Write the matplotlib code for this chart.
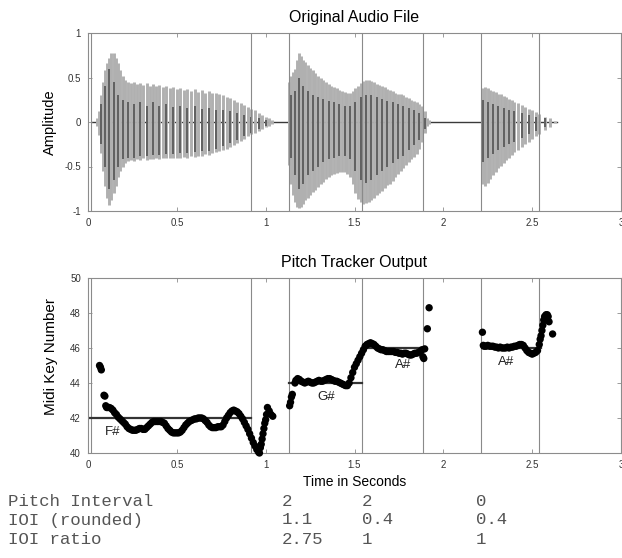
import numpy as np
import matplotlib
matplotlib.use('Agg')
import matplotlib.pyplot as plt

plt.rcParams['font.family'] = ['Liberation Sans', 'DejaVu Sans']

# ---- waveform strokes (time, top, bottom) ----
w1_t = [0.050, 0.060, 0.072, 0.084, 0.096, 0.108, 0.120, 0.132, 0.144, 0.156,
        0.168, 0.180, 0.195, 0.210, 0.225, 0.240, 0.258, 0.276, 0.294, 0.312,
        0.330, 0.348, 0.366, 0.384, 0.402, 0.420, 0.440, 0.460, 0.480, 0.500,
        0.520, 0.540, 0.560, 0.580, 0.600, 0.620, 0.640, 0.660, 0.680, 0.700,
        0.720, 0.740, 0.760, 0.780, 0.800, 0.820, 0.840, 0.860, 0.880, 0.900,
        0.920, 0.940, 0.960, 0.980, 1.000, 1.020, 1.035]
w1_top = [0.05, 0.12, 0.30, 0.45, 0.58, 0.66, 0.72, 0.78, 0.77, 0.72,
          0.66, 0.58, 0.52, 0.47, 0.45, 0.44, 0.45, 0.43, 0.44, 0.42,
          0.44, 0.41, 0.43, 0.40, 0.42, 0.39, 0.40, 0.38, 0.39, 0.37,
          0.38, 0.36, 0.37, 0.35, 0.37, 0.34, 0.36, 0.33, 0.35, 0.33,
          0.33, 0.31, 0.30, 0.28, 0.27, 0.25, 0.23, 0.21, 0.19, 0.17,
          0.15, 0.13, 0.10, 0.08, 0.06, 0.04, 0.02]
w1_bot = [-0.05, -0.15, -0.35, -0.55, -0.72, -0.85, -0.93, -0.88, -0.80, -0.72,
          -0.62, -0.55, -0.50, -0.46, -0.44, -0.43, -0.44, -0.42, -0.43, -0.41,
          -0.43, -0.42, -0.42, -0.41, -0.42, -0.40, -0.41, -0.40, -0.41, -0.40,
          -0.40, -0.39, -0.40, -0.38, -0.39, -0.38, -0.38, -0.36, -0.37, -0.35,
          -0.34, -0.33, -0.32, -0.30, -0.28, -0.26, -0.24, -0.21, -0.19, -0.16,
          -0.14, -0.12, -0.10, -0.08, -0.06, -0.04, -0.02]
d1_t = [0.072, 0.096, 0.120, 0.144, 0.168, 0.195, 0.225, 0.258, 0.294, 0.330,
        0.366, 0.402, 0.440, 0.480, 0.520, 0.560, 0.600, 0.640, 0.680, 0.720,
        0.760, 0.800, 0.840, 0.880, 0.920, 0.960, 1.000]
d1_top = [0.20, 0.40, 0.60, 0.45, 0.30, 0.25, 0.22, 0.20, 0.22, 0.18,
          0.22, 0.18, 0.20, 0.17, 0.18, 0.16, 0.18, 0.15, 0.16, 0.14,
          0.13, 0.12, 0.10, 0.08, 0.06, 0.04, 0.02]
d1_bot = [-0.25, -0.50, -0.75, -0.65, -0.50, -0.42, -0.40, -0.40, -0.38, -0.38,
          -0.37, -0.37, -0.36, -0.36, -0.35, -0.35, -0.34, -0.33, -0.33, -0.30,
          -0.27, -0.24, -0.20, -0.16, -0.12, -0.08, -0.04]

w2_t = [1.130, 1.140, 1.152, 1.164, 1.176, 1.188, 1.200, 1.212, 1.224, 1.236,
        1.250, 1.265, 1.280, 1.295, 1.310, 1.325, 1.340, 1.355, 1.370, 1.385,
        1.400, 1.415, 1.430, 1.445, 1.460, 1.475, 1.490, 1.505, 1.520, 1.535,
        1.550, 1.565, 1.580, 1.595, 1.610, 1.625, 1.640, 1.655, 1.670, 1.685,
        1.700, 1.715, 1.730, 1.745, 1.760, 1.775, 1.790, 1.805, 1.820, 1.835,
        1.850, 1.865, 1.880, 1.895, 1.910, 1.920]
w2_top = [0.45, 0.52, 0.56, 0.60, 0.70, 0.78, 0.74, 0.70, 0.67, 0.64,
          0.61, 0.58, 0.55, 0.52, 0.50, 0.47, 0.45, 0.43, 0.41, 0.39,
          0.38, 0.36, 0.35, 0.34, 0.33, 0.33, 0.35, 0.38, 0.41, 0.44,
          0.46, 0.47, 0.47, 0.46, 0.45, 0.43, 0.42, 0.40, 0.39, 0.37,
          0.36, 0.35, 0.33, 0.32, 0.31, 0.30, 0.28, 0.27, 0.25, 0.24,
          0.22, 0.20, 0.18, 0.12, 0.05, 0.02]
w2_bot = [-0.48, -0.70, -0.82, -0.90, -0.95, -0.97, -0.96, -0.92, -0.88, -0.85,
          -0.82, -0.79, -0.76, -0.73, -0.70, -0.67, -0.64, -0.62, -0.60, -0.58,
          -0.57, -0.56, -0.56, -0.56, -0.58, -0.62, -0.70, -0.80, -0.86, -0.90,
          -0.92, -0.91, -0.90, -0.88, -0.85, -0.82, -0.80, -0.77, -0.74, -0.71,
          -0.70, -0.66, -0.62, -0.58, -0.55, -0.52, -0.48, -0.45, -0.42, -0.39,
          -0.36, -0.30, -0.22, -0.12, -0.05, -0.02]
d2_t = [1.140, 1.164, 1.188, 1.212, 1.236, 1.265, 1.295, 1.325, 1.355, 1.385,
        1.415, 1.445, 1.475, 1.505, 1.535, 1.565, 1.595, 1.625, 1.655, 1.685,
        1.715, 1.745, 1.775, 1.805, 1.835, 1.865, 1.895]
d2_top = [0.30, 0.35, 0.50, 0.40, 0.35, 0.30, 0.28, 0.26, 0.24, 0.22,
          0.20, 0.18, 0.18, 0.22, 0.28, 0.30, 0.30, 0.28, 0.26, 0.24,
          0.22, 0.20, 0.18, 0.16, 0.14, 0.10, 0.05]
d2_bot = [-0.40, -0.60, -0.75, -0.70, -0.60, -0.55, -0.50, -0.45, -0.42, -0.40,
          -0.38, -0.38, -0.42, -0.55, -0.65, -0.68, -0.65, -0.60, -0.55, -0.50,
          -0.46, -0.42, -0.38, -0.32, -0.26, -0.20, -0.08]

w3_t = [2.215, 2.225, 2.235, 2.250, 2.265, 2.280, 2.295, 2.310, 2.325, 2.340,
        2.355, 2.370, 2.385, 2.400, 2.420, 2.440, 2.460, 2.480, 2.500, 2.520,
        2.540, 2.570, 2.600, 2.630]
w3_top = [0.20, 0.38, 0.39, 0.38, 0.36, 0.35, 0.34, 0.32, 0.31, 0.29,
          0.28, 0.26, 0.25, 0.23, 0.21, 0.19, 0.17, 0.15, 0.13, 0.11,
          0.09, 0.06, 0.04, 0.01]
w3_bot = [-0.30, -0.70, -0.72, -0.68, -0.64, -0.60, -0.56, -0.52, -0.49, -0.46,
          -0.43, -0.40, -0.37, -0.34, -0.31, -0.28, -0.25, -0.22, -0.19, -0.16,
          -0.13, -0.09, -0.06, -0.01]
d3_t = [2.225, 2.250, 2.280, 2.310, 2.340, 2.370, 2.400, 2.440, 2.480, 2.520, 2.570]
d3_top = [0.25, 0.22, 0.20, 0.18, 0.16, 0.14, 0.12, 0.10, 0.08, 0.06, 0.04]
d3_bot = [-0.45, -0.40, -0.36, -0.32, -0.28, -0.25, -0.22, -0.18, -0.14, -0.10, -0.06]

silence_t = [0.02, 2.64]

# ---- pitch tracker output ----
p1_t = [0.065, 0.070, 0.075, 0.090, 0.095, 0.100, 0.105, 0.110, 0.120, 0.130,
        0.140, 0.150, 0.160, 0.170, 0.180, 0.190, 0.200, 0.210, 0.220, 0.230,
        0.240, 0.250, 0.260, 0.270, 0.280, 0.290, 0.300, 0.310, 0.320, 0.330,
        0.340, 0.350, 0.360, 0.370, 0.380, 0.390, 0.400, 0.410, 0.420, 0.430,
        0.440, 0.450, 0.460, 0.470, 0.480, 0.490, 0.500, 0.510, 0.520, 0.530,
        0.540, 0.550, 0.560, 0.570, 0.580, 0.590, 0.600, 0.610, 0.620, 0.630,
        0.640, 0.650, 0.660, 0.670, 0.680, 0.690, 0.700, 0.710, 0.720, 0.730,
        0.740, 0.750, 0.760, 0.770, 0.780, 0.790, 0.800, 0.810, 0.820, 0.830,
        0.840, 0.850, 0.860, 0.870, 0.880, 0.890, 0.900, 0.910, 0.920, 0.930,
        0.940, 0.950, 0.960, 0.965, 0.970, 0.975, 0.980, 0.985, 0.990, 0.995,
        1.000, 1.005, 1.010, 1.020, 1.030, 1.040]
p1_midi = [45.0, 44.9, 44.75, 43.3, 43.25, 42.7, 42.6, 42.6, 42.6, 42.55,
           42.45, 42.3, 42.2, 42.05, 41.95, 41.85, 41.75, 41.65, 41.5, 41.4,
           41.35, 41.3, 41.3, 41.3, 41.35, 41.4, 41.4, 41.35, 41.35, 41.45,
           41.55, 41.65, 41.75, 41.8, 41.8, 41.8, 41.8, 41.8, 41.75, 41.7,
           41.55, 41.4, 41.3, 41.2, 41.15, 41.15, 41.15, 41.15, 41.2, 41.3,
           41.45, 41.6, 41.7, 41.8, 41.85, 41.9, 41.95, 41.95, 42.0, 42.0,
           42.0, 41.95, 41.85, 41.75, 41.6, 41.5, 41.45, 41.45, 41.45, 41.5,
           41.5, 41.5, 41.6, 41.8, 42.0, 42.15, 42.3, 42.4, 42.45, 42.4,
           42.35, 42.25, 42.1, 41.95, 41.75, 41.55, 41.35, 41.1, 40.85, 40.6,
           40.4, 40.2, 40.05, 40.0, 40.3, 40.5, 40.8, 41.1, 41.4, 41.7,
           41.9, 42.2, 42.6, 42.4, 42.2, 42.1]
p2_t = [1.135, 1.140, 1.145, 1.150, 1.165, 1.170, 1.180, 1.190, 1.200, 1.210,
        1.220, 1.230, 1.240, 1.250, 1.260, 1.270, 1.280, 1.290, 1.300, 1.310,
        1.320, 1.330, 1.340, 1.350, 1.360, 1.370, 1.380, 1.390, 1.400, 1.410,
        1.420, 1.430, 1.440, 1.450, 1.460, 1.470, 1.480, 1.490, 1.500, 1.510,
        1.520, 1.530, 1.540, 1.550, 1.560, 1.570, 1.580, 1.590, 1.600, 1.610,
        1.620, 1.630, 1.640, 1.650, 1.660, 1.670, 1.680, 1.690, 1.700, 1.710,
        1.720, 1.730, 1.740, 1.750, 1.760, 1.770, 1.780, 1.790, 1.800, 1.810,
        1.820, 1.830, 1.840, 1.850, 1.860, 1.870, 1.880, 1.885, 1.890, 1.895,
        1.910, 1.920]
p2_midi = [42.7, 42.9, 43.2, 43.35, 44.0, 44.15, 44.25, 44.2, 44.1, 44.05,
           44.0, 44.05, 44.1, 44.05, 44.0, 44.0, 44.05, 44.1, 44.15, 44.1,
           44.1, 44.15, 44.2, 44.25, 44.25, 44.2, 44.15, 44.1, 44.1, 44.05,
           44.0, 43.95, 43.9, 43.85, 43.85, 44.0, 44.3, 44.6, 44.9, 45.1,
           45.3, 45.5, 45.7, 45.9, 46.1, 46.2, 46.25, 46.3, 46.25, 46.2,
           46.1, 46.0, 45.95, 45.9, 45.9, 45.85, 45.8, 45.8, 45.8, 45.8,
           45.8, 45.75, 45.75, 45.7, 45.7, 45.65, 45.7, 45.7, 45.65, 45.6,
           45.6, 45.65, 45.7, 45.7, 45.75, 45.8, 45.9, 45.5, 45.4, 45.95,
           47.1, 48.3]
p3_t = [2.220, 2.225, 2.230, 2.240, 2.250, 2.260, 2.270, 2.280, 2.290, 2.300,
        2.310, 2.320, 2.330, 2.340, 2.350, 2.360, 2.370, 2.380, 2.390, 2.400,
        2.410, 2.420, 2.430, 2.440, 2.450, 2.460, 2.470, 2.480, 2.490, 2.500,
        2.510, 2.520, 2.530, 2.540, 2.545, 2.550, 2.555, 2.560, 2.565, 2.570,
        2.578, 2.585, 2.590, 2.595, 2.615]
p3_midi = [46.9, 46.15, 46.1, 46.1, 46.15, 46.1, 46.1, 46.1, 46.05, 46.05,
           46.0, 46.05, 46.0, 46.0, 46.0, 46.05, 46.0, 46.05, 46.05, 46.1,
           46.1, 46.15, 46.2, 46.2, 46.15, 46.0, 45.85, 45.75, 45.7, 45.65,
           45.7, 45.75, 45.85, 46.2, 46.5, 46.7, 47.0, 47.3, 47.6, 47.8,
           47.9, 47.9, 47.8, 47.5, 46.8]

note_start = [0.0, 1.13, 1.54, 2.22]
note_end = [0.92, 1.54, 1.89, 2.55]
note_midi = [42, 44, 46, 46]
note_names = ['F#', 'G#', 'A#', 'A#']
label_t = [0.095, 1.29, 1.73, 2.31]
label_midi = [41.2, 43.2, 45.0, 45.2]

boundaries = [0.018, 0.92, 1.13, 1.54, 1.885, 2.21, 2.54]

row_labels = ['Pitch Interval', 'IOI (rounded)', 'IOI ratio']
pitch_interval = ['2', '2', '0']
ioi_rounded = ['1.1', '0.4', '0.4']
ioi_ratio = ['2.75', '1', '1']

xticks = [0, 0.5, 1, 1.5, 2, 2.5, 3]
xticklabels = ['0', '0.5', '1', '1.5', '2', '2.5', '3']

W, H = 622, 558
fig = plt.figure(figsize=(W / 100, H / 100), dpi=100)

def px_axes(left, right, top, bottom):
    return fig.add_axes([left / W, 1 - bottom / H, (right - left) / W, (bottom - top) / H])

def matlab_style(ax):
    for s in ax.spines.values():
        s.set_color('#8c8c8c')
        s.set_linewidth(0.8)
    ax.tick_params(direction='in', length=3, width=0.6, color='#8c8c8c',
                   labelsize=7, labelcolor='#333333', top=True, right=True, pad=5)
    ax.set_xlim(0, 3)
    ax.set_xticks(xticks)
    ax.set_xticklabels(xticklabels)

ax1 = px_axes(88, 621, 33, 211)
matlab_style(ax1)
ax1.set_ylim(-1, 1)
ax1.set_yticks([-1, -0.5, 0, 0.5, 1])
ax1.set_yticklabels(['-1', '-0.5', '0', '0.5', '1'])
ax1.plot(silence_t, [0, 0], color='#3a3a3a', lw=1.0, zorder=1)
for t, top, bot in [(w1_t, w1_top, w1_bot), (w2_t, w2_top, w2_bot), (w3_t, w3_top, w3_bot)]:
    ax1.vlines(t, bot, top, color='#b0b0b0', lw=2.1, zorder=2)
for t, top, bot in [(d1_t, d1_top, d1_bot), (d2_t, d2_top, d2_bot), (d3_t, d3_top, d3_bot)]:
    ax1.vlines(t, bot, top, color='#5a5a5a', lw=1.3, zorder=3)
for b in boundaries:
    ax1.axvline(b, color='#8a8a8a', lw=0.8, zorder=4)
ax1.set_title('Original Audio File', fontsize=11.5, pad=8)
ax1.set_ylabel('Amplitude', fontsize=10.5)
ax1.yaxis.set_label_coords(-0.058, 0.5)

ax2 = px_axes(88, 621, 278, 453)
matlab_style(ax2)
ax2.set_ylim(40, 50)
ax2.set_yticks([40, 42, 44, 46, 48, 50])
for b in boundaries:
    ax2.axvline(b, color='#8a8a8a', lw=0.8, zorder=1)
for s, e, m in zip(note_start, note_end, note_midi):
    ax2.plot([s, e], [m, m], color='#333333', lw=1.6, zorder=2)
for t, m in [(p1_t, p1_midi), (p2_t, p2_midi), (p3_t, p3_midi)]:
    ax2.scatter(t, m, s=28, color='black', edgecolors='none', zorder=3, clip_on=False)
for name, t, m in zip(note_names, label_t, label_midi):
    ax2.text(t, m, name, fontsize=9.5, color='#222222', ha='left', va='center', zorder=4)
ax2.set_title('Pitch Tracker Output', fontsize=11.5, pad=8)
ax2.set_ylabel('Midi Key Number', fontsize=11)
ax2.yaxis.set_label_coords(-0.056, 0.55)
ax2.set_xlabel('Time in Seconds', fontsize=10, labelpad=4)

# table below the plot
row_y = [501, 520, 539]
col_x = [282, 362, 476]
mono = dict(family=['Liberation Mono', 'DejaVu Sans Mono'], fontsize=12.5,
            color='#555555', va='center', ha='left')
for y, lab, vals in zip(row_y, row_labels, [pitch_interval, ioi_rounded, ioi_ratio]):
    fig.text(8 / W, 1 - y / H, lab, **mono)
    for x, v in zip(col_x, vals):
        fig.text(x / W, 1 - y / H, v, **mono)

fig.savefig('out.png', dpi=100)
